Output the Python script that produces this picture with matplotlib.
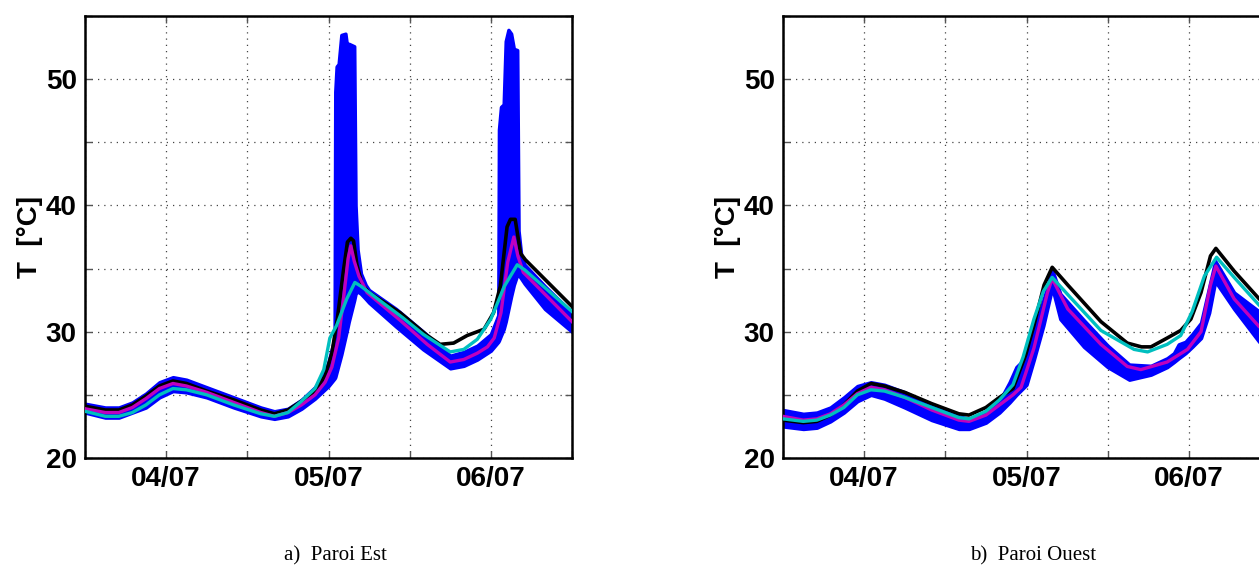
import matplotlib
matplotlib.use("Agg")
import matplotlib.pyplot as plt

# time in hours from 04/07 00:00
# ---- Paroi Est ----
tK_E = [-12, -9, -7, -5, -3, -1, 1, 3, 6, 10, 14, 16, 18, 20, 22, 23.5, 24.5, 25.3, 26.2, 26.8,
        27.3, 27.7, 28.2, 29.0, 30, 34.6, 38.6, 40.5, 42.5, 44.5, 47, 48.4, 49.4, 50.4, 50.9, 51.6,
        52.4, 53.1, 60]
K_E = [24.1, 23.8, 23.8, 24.2, 24.9, 25.7, 26.1, 25.9, 25.3, 24.6, 23.8, 23.5, 23.8, 24.5, 25.3, 26.5,
       28.3, 31.0, 34.8, 37.1, 37.4, 37.2, 35.3, 33.7, 33.1, 31.5, 29.7, 29.0, 29.1, 29.7, 30.2, 31.5,
       33.6, 38.3, 38.9, 38.9, 36.2, 35.7, 32.0]

tM_E = [-12, -9, -7, -5, -3, -1, 1, 3, 6, 10, 14, 16, 18, 20, 22, 23.5, 24.5, 25.5, 26.3, 26.9,
        27.3, 27.8, 28.5, 29.7, 34.6, 38.6, 42, 44, 46, 47.5, 48.5, 49.5, 50.5, 51.4, 52.0, 52.8, 60]
M_E = [23.9, 23.6, 23.6, 24.0, 24.7, 25.5, 25.9, 25.7, 25.2, 24.4, 23.6, 23.3, 23.6, 24.2, 25.0, 26.0,
       27.2, 29.5, 33.0, 35.8, 36.8, 35.6, 34.4, 33.1, 30.9, 29.0, 27.6, 27.8, 28.3, 28.8, 29.5, 31.5,
       35.5, 37.5, 36.0, 34.7, 30.8]

tC_E = [-12, -9, -7, -5, -3, -1, 1, 3, 6, 10, 14, 16, 18, 20, 22, 23.3, 24.2, 25.2, 26.7, 27.9,
        28.8, 32, 35, 38, 42, 44, 46, 48, 50, 51.9, 53, 60]
C_E = [23.7, 23.3, 23.3, 23.6, 24.2, 25.0, 25.5, 25.4, 25.0, 24.2, 23.5, 23.3, 23.6, 24.5, 25.5, 27.0,
       29.5, 30.5, 32.6, 33.9, 33.6, 32.3, 31.1, 29.8, 28.4, 28.6, 29.4, 31.0, 33.6, 35.3, 34.9, 31.6]

tB_E = [-12, -9, -7, -5, -3, -1, 1, 3, 6, 10, 14, 16, 18, 20, 22, 23, 24, 24.9, 25.0, 25.2, 25.5,
        25.9, 26.5, 26.8, 27.0, 27.8, 28.0, 28.3, 28.8, 29.5, 30, 34, 38, 42, 44, 46, 48, 49.1, 49.2,
        49.5, 49.9, 50.2, 50.6, 51.0, 51.4, 51.9, 52.1, 52.5, 53, 56, 60]
B_E_hi = [24.3, 24.0, 24.0, 24.4, 25.1, 26.0, 26.4, 26.2, 25.6, 24.8, 24.0, 23.7, 23.9, 24.6, 25.6,
          26.3, 27.6, 29.5, 49.0, 51.0, 51.2, 53.5, 53.6, 52.4, 52.8, 52.6, 40.0, 36.5, 34.6, 33.7,
          33.3, 31.8, 30.0, 28.1, 28.4, 28.9, 29.8, 31.3, 46.0, 47.8, 48.0, 53.0, 53.9, 53.6, 52.4,
          52.3, 38.0, 36.0, 35.3, 33.6, 31.5]
B_E_lo = [23.6, 23.2, 23.2, 23.6, 24.0, 24.8, 25.3, 25.2, 24.8, 24.0, 23.3, 23.1, 23.3, 23.9, 24.7,
          25.2, 25.7, 26.3, 26.4, 26.8, 27.4, 28.2, 29.6, 30.3, 30.8, 32.5, 33.0, 33.2, 33.0, 32.6,
          32.3, 30.4, 28.6, 27.1, 27.3, 27.8, 28.5, 29.2, 29.3, 29.7, 30.2, 30.8, 31.8, 32.8, 33.7,
          34.5, 34.5, 34.2, 33.8, 31.8, 30.0]

# ---- Paroi Ouest ----
tK_W = [-12, -9, -7, -5, -3, -1, 1, 3, 6, 10, 14, 15.5, 18, 20, 22, 23.9, 25.1, 26.6, 27.8, 30.1,
        35, 38.9, 41, 42.4, 44.8, 46.8, 48.3, 49.8, 51.2, 52, 54.7, 58.4, 60]
K_W = [23.0, 22.8, 22.9, 23.4, 24.2, 25.3, 25.9, 25.7, 25.2, 24.3, 23.5, 23.4, 24.0, 24.8, 25.5, 28.2,
       30.5, 33.7, 35.1, 33.7, 30.8, 29.1, 28.8, 28.8, 29.5, 30.1, 31.0, 33.1, 36.0, 36.6, 34.8, 32.6,
       31.7]

tM_W = [-12, -9, -7, -5, -3, -1, 1, 3, 6, 10, 14, 15.5, 18, 20, 22, 23.2, 25.1, 27.1, 27.8, 30.1,
        35, 38.9, 40.9, 44.8, 47.8, 49.8, 51.2, 52, 54.7, 58.4, 60]
M_W = [23.3, 23.0, 23.1, 23.5, 24.2, 25.1, 25.6, 25.4, 24.8, 23.8, 23.0, 22.9, 23.4, 24.2, 25.0, 25.6,
       28.7, 33.1, 34.2, 31.8, 29.0, 27.25, 27.0, 27.6, 28.6, 30.0, 33.7, 35.2, 32.6, 30.4, 29.8]

tC_W = [-12, -9, -7, -5, -3, -1, 1, 3, 6, 10, 14, 15.5, 18, 20, 22, 23.5, 25.1, 26.5, 27.8, 30, 35,
        39.9, 41.9, 44.8, 46.8, 48.5, 50.3, 52.1, 54.7, 58.4, 60]
C_W = [23.1, 22.9, 23.0, 23.4, 24.0, 25.0, 25.4, 25.3, 24.8, 24.0, 23.2, 23.1, 23.7, 24.6, 25.8, 28.0,
       31.0, 33.2, 34.3, 33.0, 30.1, 28.6, 28.4, 29.0, 29.7, 31.6, 34.4, 35.9, 34.3, 32.1, 31.4]

tB_W = [-12, -9, -7, -5, -3, -1, 1, 3, 6, 10, 14, 15.5, 18, 20, 21.5, 22.5, 24, 25.1, 26.5, 27.8,
        29, 32.5, 36, 39.2, 42.4, 44.8, 45.8, 46.5, 47.5, 48.5, 49.8, 51.0, 51.9, 54.7, 58.4, 60]
B_W_hi = [23.8, 23.5, 23.6, 24.0, 24.8, 25.7, 26.0, 25.8, 25.2, 24.2, 23.3, 23.1, 23.6, 24.5, 26.0,
          27.2, 28.0, 30.0, 32.5, 34.9, 33.0, 30.9, 28.9, 27.4, 27.3, 27.9, 28.3, 29.0, 29.2, 29.8,
          30.7, 33.5, 35.6, 33.1, 31.6, 30.9]
B_W_lo = [22.5, 22.3, 22.4, 22.9, 23.6, 24.5, 25.0, 24.7, 24.0, 23.0, 22.3, 22.3, 22.8, 23.6, 24.4,
          25.0, 25.8, 27.8, 30.5, 33.5, 31.0, 28.8, 27.2, 26.2, 26.6, 27.2, 27.6, 27.9, 28.3, 28.8,
          29.5, 31.5, 34.0, 31.8, 29.2, 28.6]

xticks = [-12, 0, 12, 24, 36, 48, 60]
xlabels = ['', '04/07', '', '05/07', '', '06/07', '']
yticks = [20, 25, 30, 35, 40, 45, 50, 55]
ylabels = ['20', '', '30', '', '40', '', '50', '']
captions = ['a)  Paroi Est', 'b)  Paroi Ouest']

BLUE = '#0000ff'
MAG = '#bf00bf'
CYAN = '#00bfbf'

fig = plt.figure(figsize=(12.59, 5.70), dpi=100)
W, H = 1259, 570
ax_w, ax_h = 487, 442
lefts = [85, 783]
panels = [
    (tB_E, B_E_lo, B_E_hi, tK_E, K_E, tM_E, M_E, tC_E, C_E),
    (tB_W, B_W_lo, B_W_hi, tK_W, K_W, tM_W, M_W, tC_W, C_W),
]

for i, (tb, lo, hi, tk, k, tm, m, tc, c) in enumerate(panels):
    ax = fig.add_axes([lefts[i] / W, (H - 16 - ax_h) / H, ax_w / W, ax_h / H])
    ax.fill_between(tb, lo, hi, color=BLUE, lw=2.5, edgecolor=BLUE, zorder=2)
    ax.plot(tk, k, color='black', lw=2.6, zorder=3)
    ax.plot(tm, m, color=MAG, lw=2.4, zorder=4)
    ax.plot(tc, c, color=CYAN, lw=2.4, zorder=5)

    ax.set_xlim(-12, 60)
    ax.set_ylim(20, 55)
    ax.set_xticks(xticks)
    ax.set_xticklabels(xlabels)
    ax.set_yticks(yticks)
    ax.set_yticklabels(ylabels)
    ax.grid(True, color='#444444', linestyle=(0, (1, 4)), lw=0.9, zorder=1)
    ax.tick_params(direction='in', length=5, width=1, color='#555555', top=True, right=True,
                   labelsize=20, pad=6)
    for lab in ax.get_xticklabels() + ax.get_yticklabels():
        lab.set_fontweight('bold')
        lab.set_family('Liberation Sans')
    for sp in ax.spines.values():
        sp.set_linewidth(1.8)
    ax.set_ylabel('T  [°C]', fontsize=20, fontweight='bold', family='Liberation Sans', labelpad=2)
    fig.text((lefts[i] + 250) / W, 1 - 556 / H, captions[i], ha='center', va='center',
             family='Liberation Serif', fontsize=15)

fig.savefig('out.png', dpi=100)
